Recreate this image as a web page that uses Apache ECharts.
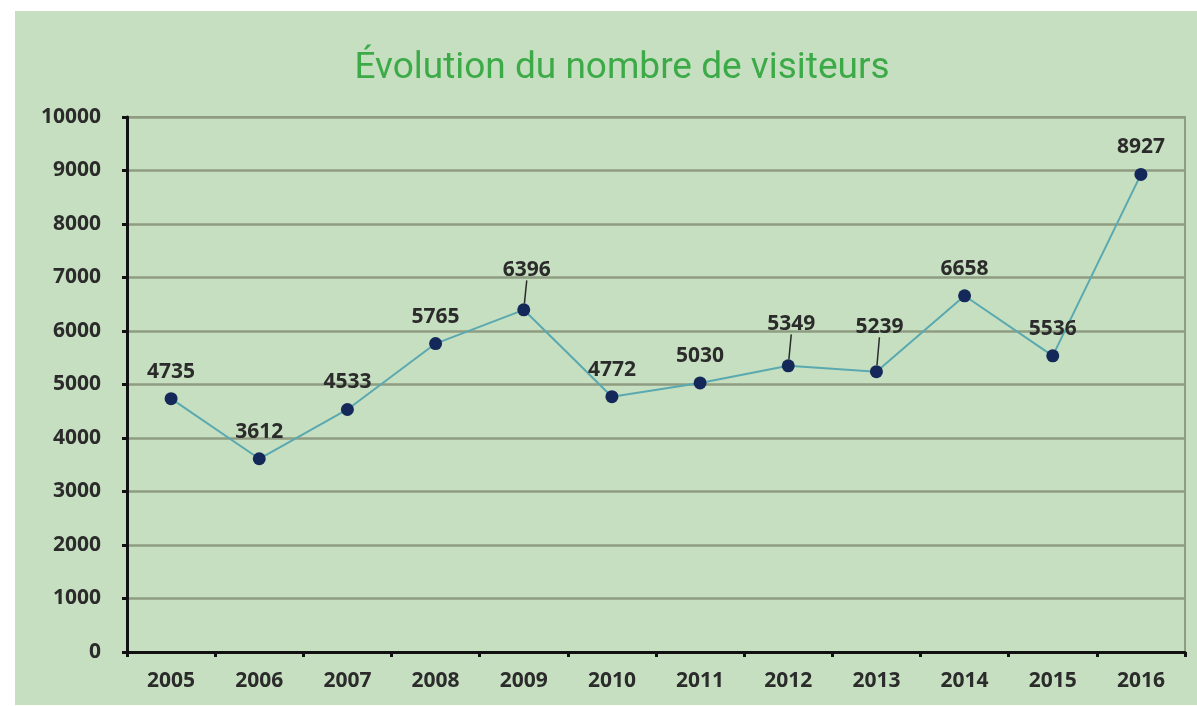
<!DOCTYPE html>
<html>
<head>
<meta charset="utf-8">
<title>Évolution du nombre de visiteurs</title>
<script src="https://cdn.jsdelivr.net/npm/echarts@6/dist/echarts.min.js"></script>
<style>
  html, body { margin: 0; padding: 0; background: #ffffff; }
  #chart { position: absolute; left: 15px; top: 11px; width: 1182px; height: 694px; }
</style>
</head>
<body>
<div id="chart"></div>
<script>
// data
let years = ['2005', '2006', '2007', '2008', '2009', '2010', '2011', '2012', '2013', '2014', '2015', '2016']
let visitors = [4735, 3612, 4533, 5765, 6396, 4772, 5030, 5349, 5239, 6658, 5536, 8927]
// labels pulled up with a leader line (index -> extra lift in px)
let liftedLabels = { 4: 13, 7: 15, 8: 18 }

let labelFont = 'Open Sans'
let textColor = '#2b2b2b'

let chart = echarts.init(document.getElementById('chart'))

let seriesData = visitors.map((v, i) => {
  let item = { value: v }
  if (liftedLabels[i]) {
    item.labelLine = { show: true, lineStyle: { color: '#2b2b2b', width: 1.5 } }
  }
  return item
})

let option = {
  backgroundColor: '#c6dfc0',
  animation: false,
  title: {
    text: 'Évolution du nombre de visiteurs',
    left: 602,
    top: 34,
    textAlign: 'center',
    textStyle: {
      color: '#3daa48',
      fontFamily: 'Roboto',
      fontWeight: 'normal',
      fontSize: 37
    }
  },
  grid: {
    left: 112,
    right: 12,
    top: 106,
    bottom: 53,
    show: true,
    borderColor: '#8e9c82',
    borderWidth: 2,
    backgroundColor: 'transparent'
  },
  xAxis: {
    type: 'category',
    data: years,
    boundaryGap: true,
    axisLine: { lineStyle: { color: '#111', width: 3 } },
    axisTick: { show: true, length: 5, lineStyle: { color: '#111', width: 3 } },
    axisLabel: {
      color: textColor,
      fontFamily: labelFont,
      fontWeight: 'bold',
      fontSize: 21,
      margin: 19
    }
  },
  yAxis: {
    type: 'value',
    min: 0,
    max: 10000,
    interval: 1000,
    axisLine: { show: true, lineStyle: { color: '#111', width: 3 } },
    axisTick: { show: true, inside: false, length: 5, lineStyle: { color: '#111', width: 3 } },
    axisLabel: {
      color: textColor,
      fontFamily: labelFont,
      fontWeight: 'bold',
      fontSize: 21,
      margin: 26,
      formatter: v => String(v)
    },
    splitLine: { lineStyle: { color: '#8e9c82', width: 2.5 } }
  },
  series: [
    {
      type: 'line',
      data: seriesData,
      symbol: 'circle',
      symbolSize: 13,
      itemStyle: { color: '#14295a' },
      lineStyle: { color: '#5aa9b0', width: 2 },
      label: {
        show: true,
        position: 'top',
        distance: 10,
        color: textColor,
        fontFamily: labelFont,
        fontWeight: 'bold',
        fontSize: 21
      },
      labelLayout: function (params) {
        let lift = liftedLabels[params.dataIndex]
        if (!lift) return {}
        return { dx: 3, dy: -lift }
      }
    }
  ]
}

chart.setOption(option)
</script>
</body>
</html>
